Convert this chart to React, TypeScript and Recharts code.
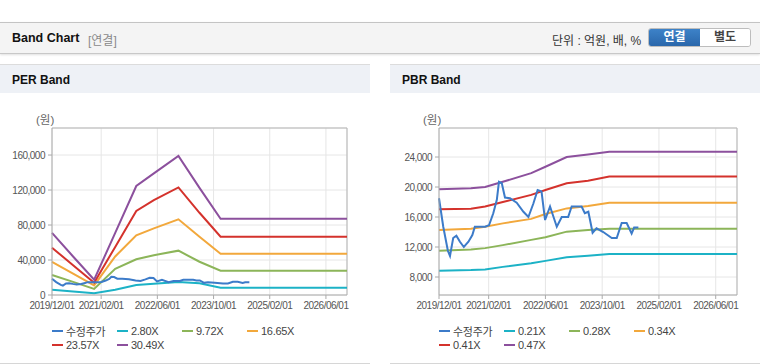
import { LineChart, Line, XAxis, YAxis, CartesianGrid, ReferenceLine } from 'recharts'

// x axis is months since 2019/12
const tickMonths = [0, 14, 30, 46, 62, 78]
const tickLabels = ['2019/12/01', '2021/02/01', '2022/06/01', '2023/10/01', '2025/02/01', '2026/06/01']

const priceMonths = [
  0, 1.2, 2.5, 3.1, 4, 4.9, 5.9, 7, 8.3, 9.4, 10.1, 13, 14.1, 15.3, 16.3, 16.9, 17.7, 18.6, 20,
  21.9, 23.8, 25.2, 26.6, 27.8, 28.9, 29.9, 31.3, 33.2, 34.6, 36.4, 37.4, 40.2, 41.1, 42.1, 43.3,
  44.4, 46.3, 48.7, 50.1, 51.5, 52.9, 54.3, 55, 56.2,
]
const priceValues = [
  18500, 14700, 11500, 10800, 13200, 13500, 12700, 12000, 12700, 13600, 14700, 14700, 14900, 16500,
  18300, 20700, 20500, 18600, 18500, 17900, 16700, 16000, 17800, 19600, 19400, 15600, 17400, 14700,
  16000, 16000, 17400, 17400, 16500, 16700, 13900, 14500, 14000, 13200, 13200, 15200, 15200, 13800,
  14600, 14600,
]

const perMonths = [0, 6, 12, 18, 24, 29, 36, 42, 48, 84]
const per280 = [6000, 4000, 2000, 6000, 11400, 12800, 14900, 13400, 8300, 8300]
const per972 = [22900, 15000, 7000, 30000, 40800, 45500, 50700, 38000, 27800, 27800]
const per1665 = [38000, 24500, 11000, 44000, 68200, 76200, 86500, 66500, 47200, 47200]
const per2357 = [54100, 34000, 14000, 55000, 96000, 108500, 123000, 94000, 66700, 66700]
const per3049 = [71000, 44000, 17500, 71000, 124600, 139000, 158900, 122500, 87200, 87200]
const perNames = ['2.80X', '9.72X', '16.65X', '23.57X', '30.49X']

const pbrMonths = [0, 9, 13, 18, 26, 30, 36, 42, 48, 84]
const pbr021 = [8840, 8920, 9000, 9350, 9830, 10150, 10630, 10820, 11070, 11070]
const pbr028 = [11500, 11680, 11850, 12250, 12950, 13300, 14050, 14280, 14420, 14420]
const pbr034 = [14270, 14450, 14700, 15150, 15750, 16400, 17150, 17480, 17900, 17900]
const pbr041 = [17030, 17100, 17400, 18000, 18950, 19600, 20500, 20850, 21400, 21400]
const pbr047 = [19700, 19850, 20000, 20700, 21850, 22700, 24000, 24350, 24700, 24700]
const pbrNames = ['0.21X', '0.28X', '0.34X', '0.41X', '0.47X']

const perTicks = [0, 40000, 80000, 120000, 160000]
const pbrTicks = [8000, 12000, 16000, 20000, 24000]

const COLORS = ['#3c7bc9', '#1cb2c6', '#8cb559', '#f2a83c', '#d4322c', '#8c509d']
const FONT = '"Liberation Sans", Arial, "Noto Sans CJK KR", sans-serif'

type Series = { name: string; months: number[]; values: number[] }

const zip = (months: number[], values: number[]) => months.map((m, i) => ({ m, v: values[i] }))

const perSeries: Series[] = [
  { name: '수정주가', months: priceMonths, values: priceValues },
  ...[per280, per972, per1665, per2357, per3049].map((v, i) => ({ name: perNames[i], months: perMonths, values: v })),
]
const pbrSeries: Series[] = [
  { name: '수정주가', months: priceMonths, values: priceValues },
  ...[pbr021, pbr028, pbr034, pbr041, pbr047].map((v, i) => ({ name: pbrNames[i], months: pbrMonths, values: v })),
]

const fmt = (v: number) => v.toLocaleString('en-US')
const tickStyle = { fontSize: 10, fill: '#555', fontFamily: FONT, letterSpacing: -0.5 }

function BandPanel({ left, title, series, yDomain, yTicks, yWidth }: {
  left: number; title: string; series: Series[]; yDomain: [number, number]; yTicks: number[]; yWidth: number
}) {
  return (
    <div style={{ position: 'absolute', left, top: 64, width: 370, height: 298, borderTop: '1px solid #dcdcdc', borderBottom: '1px solid #d6d6d6', background: '#fff' }}>
      <div style={{ height: 28, background: '#eef1f6', fontWeight: 'bold', fontSize: 12, lineHeight: '31px', paddingLeft: 12, color: '#111', fontFamily: FONT }}>
        {title}
      </div>
      <div style={{ position: 'absolute', left: yWidth - 16, top: 46, fontSize: 11.5, color: '#666', fontFamily: FONT }}>(원)</div>
      <div style={{ position: 'absolute', left: 0, top: 45 }}>
        <LineChart width={370} height={210} margin={{ top: 18, right: 23, bottom: 5, left: 0 }}>
          <CartesianGrid stroke="#e6e6e6" />
          <XAxis
            type="number" dataKey="m" domain={[0, 84]} ticks={tickMonths} interval={0}
            tickFormatter={(v: number) => tickLabels[tickMonths.indexOf(v)]}
            tick={tickStyle} tickSize={4} tickMargin={3} height={20}
            stroke="#aaa" allowDuplicatedCategory={false}
          />
          <YAxis
            type="number" domain={yDomain} ticks={yTicks} interval={0} tickFormatter={fmt}
            tick={tickStyle} tickSize={4} tickMargin={3} width={yWidth} stroke="#aaa"
          />
          <ReferenceLine y={yDomain[1]} stroke="#b5b5b5" />
          <ReferenceLine x={84} stroke="#b5b5b5" />
          {series.slice(1).map((s, i) => (
            <Line key={s.name} data={zip(s.months, s.values)} dataKey="v" name={s.name} type="linear"
              stroke={COLORS[i + 1]} strokeWidth={2} dot={false} isAnimationActive={false} />
          ))}
          <Line data={zip(series[0].months, series[0].values)} dataKey="v" name={series[0].name} type="linear"
            stroke={COLORS[0]} strokeWidth={2} dot={false} isAnimationActive={false} />
        </LineChart>
      </div>
      <div style={{ position: 'absolute', left: yWidth, top: 259, width: 270, display: 'flex', flexWrap: 'wrap', fontFamily: FONT }}>
        {series.map((s, i) => (
          <div key={s.name} style={{ width: 65, height: 14, display: 'flex', alignItems: 'center', fontSize: 11, color: '#444', letterSpacing: -0.3 }}>
            <span style={{ display: 'inline-block', width: 11, height: 2.5, background: COLORS[i], marginRight: 3 }} />
            <span>{s.name}</span>
          </div>
        ))}
      </div>
    </div>
  )
}

export default function App() {
  return (
    <div style={{ position: 'absolute', left: 0, top: 0, width: 760, height: 364, background: '#fff', fontFamily: FONT, overflow: 'hidden' }}>
      <div style={{ position: 'absolute', left: 0, top: 22, width: 760, height: 30, background: '#f4f4f4', borderTop: '1px solid #c4c4c4', borderBottom: '1px solid #c8c8c8', boxShadow: '0 1px 2px rgba(0,0,0,0.12)' }}>
        <span style={{ position: 'absolute', left: 12, top: 8, fontSize: 12.5, fontWeight: 'bold', color: '#111' }}>Band Chart</span>
        <span style={{ position: 'absolute', left: 88, top: 8, fontSize: 12, color: '#8a8a8a' }}>[연결]</span>
        <span style={{ position: 'absolute', left: 552, top: 8, fontSize: 12, color: '#333' }}>단위 : 억원, 배, %</span>
        <div style={{ position: 'absolute', left: 648, top: 5, width: 103, height: 19, display: 'flex', borderRadius: 3, overflow: 'hidden', border: '1px solid #bdbdbd', boxSizing: 'border-box' }}>
          <div style={{ width: 51, background: 'linear-gradient(#3d82c8, #2a67ab)', color: '#fff', fontWeight: 'bold', fontSize: 12, textAlign: 'center', lineHeight: '17px' }}>연결</div>
          <div style={{ flex: 1, background: '#fff', color: '#444', fontWeight: 'bold', fontSize: 12, textAlign: 'center', lineHeight: '17px' }}>별도</div>
        </div>
      </div>
      <BandPanel left={0} title="PER Band" series={perSeries} yDomain={[0, 190900]} yTicks={perTicks} yWidth={52} />
      <BandPanel left={390} title="PBR Band" series={pbrSeries} yDomain={[5600, 27870]} yTicks={pbrTicks} yWidth={49} />
    </div>
  )
}
